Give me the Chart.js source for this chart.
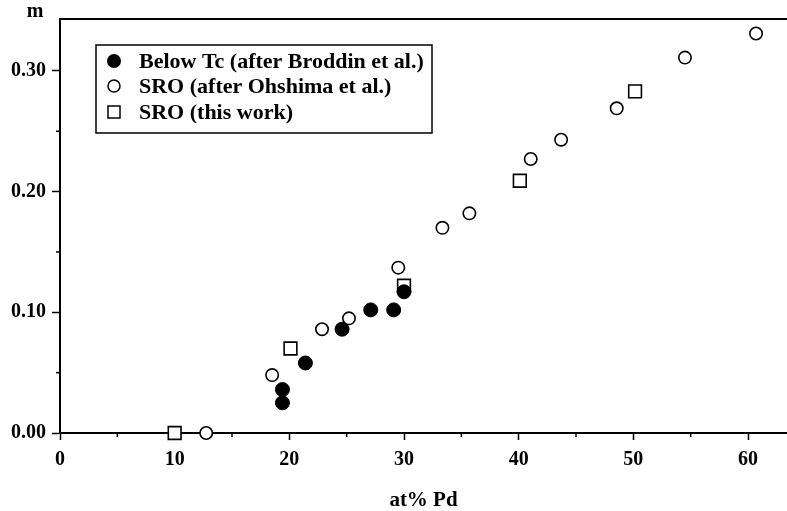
<!DOCTYPE html>
<html>
<head>
<meta charset="utf-8">
<script src="https://cdn.jsdelivr.net/npm/chart.js@4/dist/chart.umd.min.js"></script>
<style>
  html, body { margin: 0; padding: 0; background: #fff; }
  #wrap { width: 787px; height: 511px; position: relative; }
</style>
</head>
<body>
<div id="wrap"><canvas id="c" width="787" height="511"></canvas></div>
<script>
// ---- data ----
const seriesNames = ['Below Tc (after Broddin et al.)', 'SRO (after Ohshima et al.)', 'SRO (this work)'];
const belowTcX = [19.4, 19.4, 21.4, 24.6, 27.1, 29.1, 30.0];
const belowTcY = [0.025, 0.036, 0.058, 0.086, 0.102, 0.102, 0.117];
const ohshimaX = [12.75, 18.5, 22.85, 25.2, 29.5, 33.35, 35.7, 41.05, 43.7, 48.55, 54.5, 60.7];
const ohshimaY = [0.0, 0.048, 0.086, 0.095, 0.137, 0.170, 0.182, 0.227, 0.243, 0.269, 0.311, 0.331];
const thisWorkX = [10.0, 20.1, 30.0, 40.1, 50.15];
const thisWorkY = [0.0, 0.070, 0.122, 0.209, 0.283];
const xTickValues = [0, 5, 10, 15, 20, 25, 30, 35, 40, 45, 50, 55, 60];
const xTickLabels = ['0', '', '10', '', '20', '', '30', '', '40', '', '50', '', '60'];
const yTickValues = [0, 0.05, 0.10, 0.15, 0.20, 0.25, 0.30];
const yTickLabels = ['0.00', '', '0.10', '', '0.20', '', '0.30'];
const xAxisTitle = 'at% Pd';
const yAxisTitle = 'm';

const FAMILY = '"Liberation Serif", "Times New Roman", serif';

function pts(xs, ys) { return xs.map((x, i) => ({ x: x, y: ys[i] })); }
function isMajor(labels, i) { return labels[i] !== ''; }

const decor = {
  id: 'decor',
  afterDatasetsDraw(chart) {
    const ctx = chart.ctx;
    const xs = chart.scales.x, ys = chart.scales.y;
    const area = chart.chartArea;
    ctx.save();
    // top frame line
    ctx.strokeStyle = '#000';
    ctx.lineWidth = 2;
    ctx.beginPath();
    ctx.moveTo(area.left, area.top);
    ctx.lineTo(area.right, area.top);
    ctx.stroke();
    // minor ticks
    ctx.lineWidth = 1.5;
    xTickValues.forEach((v, i) => {
      if (isMajor(xTickLabels, i)) return;
      const px = xs.getPixelForValue(v);
      ctx.beginPath(); ctx.moveTo(px, area.bottom); ctx.lineTo(px, area.bottom + 4); ctx.stroke();
    });
    yTickValues.forEach((v, i) => {
      if (isMajor(yTickLabels, i)) return;
      const py = ys.getPixelForValue(v);
      ctx.beginPath(); ctx.moveTo(area.left, py); ctx.lineTo(area.left - 4, py); ctx.stroke();
    });
    // y axis title "m"
    ctx.fillStyle = '#000';
    ctx.font = 'bold 20px ' + FAMILY;
    ctx.textAlign = 'center';
    ctx.textBaseline = 'middle';
    ctx.fillText(yAxisTitle, 35, 12);
    // legend box
    const bx = 96, by = 45, bw = 336, bh = 88;
    ctx.fillStyle = '#fff';
    ctx.fillRect(bx, by, bw, bh);
    ctx.lineWidth = 1.5;
    ctx.strokeStyle = '#000';
    ctx.strokeRect(bx, by, bw, bh);
    const rows = [61, 86, 112];
    const mx = 114;
    // filled circle
    ctx.fillStyle = '#000';
    ctx.beginPath(); ctx.arc(mx, rows[0], 7, 0, Math.PI * 2); ctx.fill();
    // open circle
    ctx.fillStyle = '#fff';
    ctx.beginPath(); ctx.arc(mx, rows[1], 6, 0, Math.PI * 2); ctx.fill(); ctx.stroke();
    // square
    ctx.fillRect(mx - 6, rows[2] - 6, 12, 12);
    ctx.strokeRect(mx - 6, rows[2] - 6, 12, 12);
    ctx.fillStyle = '#000';
    ctx.font = 'bold 22px ' + FAMILY;
    ctx.textAlign = 'left';
    ctx.textBaseline = 'middle';
    seriesNames.forEach((n, i) => ctx.fillText(n, 139, rows[i] + 1));
    ctx.restore();
  }
};

new Chart(document.getElementById('c'), {
  type: 'scatter',
  data: {
    datasets: [
      { label: seriesNames[0], data: pts(belowTcX, belowTcY), pointStyle: 'circle', pointRadius: 7,
        backgroundColor: '#000', borderColor: '#000', borderWidth: 1, clip: false },
      { label: seriesNames[1], data: pts(ohshimaX, ohshimaY), pointStyle: 'circle', pointRadius: 6.2,
        backgroundColor: '#fff', borderColor: '#000', borderWidth: 1.6, clip: false },
      { label: seriesNames[2], data: pts(thisWorkX, thisWorkY), pointStyle: 'rect', pointRadius: 9,
        backgroundColor: '#fff', borderColor: '#000', borderWidth: 1.6, clip: false }
    ]
  },
  options: {
    responsive: false,
    animation: false,
    events: [],
    layout: { autoPadding: false, padding: { top: 19, left: 0, right: 0, bottom: 0 } },
    plugins: { legend: { display: false }, tooltip: { enabled: false } },
    scales: {
      x: {
        type: 'linear', min: 0, max: 63.4,
        afterBuildTicks(s) { s.ticks = xTickValues.map(v => ({ value: v })); },
        afterFit(s) { s.height = 78; s.paddingLeft = 0; s.paddingRight = 0; },
        ticks: {
          autoSkip: false, maxRotation: 0, padding: 8, color: '#000',
          font: { family: FAMILY, size: 20, weight: 'bold' },
          callback(v, i) { return xTickLabels[i]; }
        },
        grid: {
          display: true, drawOnChartArea: false, drawTicks: true, tickLength: 7,
          tickColor: (c) => (c.index !== undefined && isMajor(xTickLabels, c.index)) ? '#000' : 'rgba(0,0,0,0)',
          tickWidth: 1.5
        },
        border: { display: true, color: '#000', width: 2 },
        title: { display: true, text: xAxisTitle, color: '#000', padding: 0,
          font: { family: FAMILY, size: 21, weight: 'bold', lineHeight: 1 } }
      },
      y: {
        type: 'linear', min: 0, max: 0.343,
        afterBuildTicks(s) { s.ticks = yTickValues.map(v => ({ value: v })); },
        afterFit(s) { s.width = 60; s.paddingTop = 0; s.paddingBottom = 0; },
        ticks: {
          autoSkip: false, padding: 6, color: '#000',
          font: { family: FAMILY, size: 20, weight: 'bold' },
          callback(v, i) { return yTickLabels[i]; }
        },
        grid: {
          display: true, drawOnChartArea: false, drawTicks: true, tickLength: 8,
          tickColor: (c) => (c.index !== undefined && isMajor(yTickLabels, c.index)) ? '#000' : 'rgba(0,0,0,0)',
          tickWidth: 1.5
        },
        border: { display: true, color: '#000', width: 2 }
      }
    }
  },
  plugins: [decor]
});
</script>
</body>
</html>
